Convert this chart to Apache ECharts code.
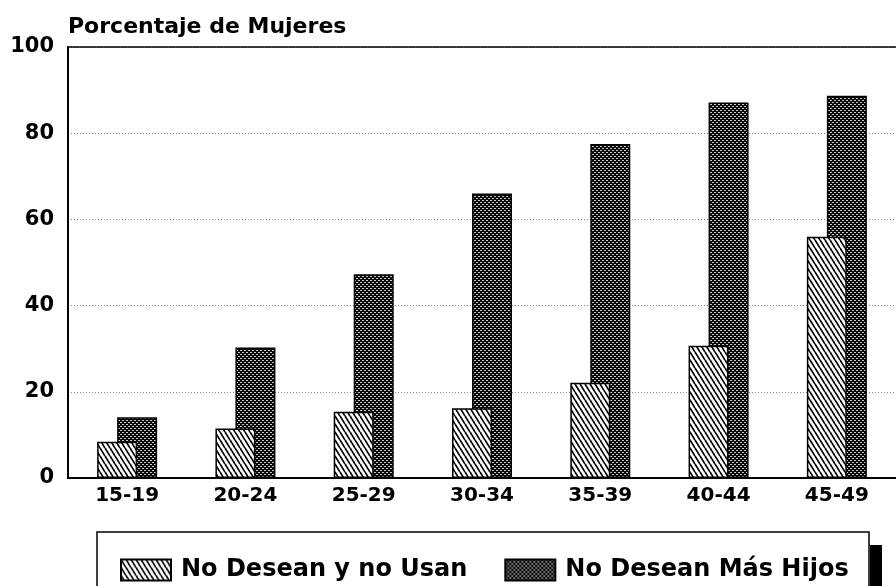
<!DOCTYPE html>
<html>
<head>
<meta charset="utf-8">
<script src="https://cdn.jsdelivr.net/npm/echarts@6/dist/echarts.min.js"></script>
<style>
html,body{margin:0;padding:0;background:#fff;}
#chart{width:896px;height:586px;}
</style>
</head>
<body>
<div id="chart"></div>
<script>
// ---- data ----
const categories = ['15-19', '20-24', '25-29', '30-34', '35-39', '40-44', '45-49'];
const noDeseanNoUsan = [8.4, 11.5, 15.4, 16.2, 22.1, 30.7, 56];
const noDeseanMasHijos = [14.1, 30.3, 47.3, 66, 77.5, 87.1, 88.7];
const seriesNames = ['No Desean y no Usan', 'No Desean Más Hijos'];
const yAxisName = 'Porcentaje de Mujeres';
const yMin = 0, yMax = 100, yInterval = 20;

// ---- patterns ----
function hatchPattern() {
  const c = document.createElement('canvas');
  c.width = 5; c.height = 8;
  const ctx = c.getContext('2d');
  ctx.fillStyle = '#fff';
  ctx.fillRect(0, 0, 5, 8);
  ctx.strokeStyle = '#000';
  ctx.lineWidth = 1.7;
  [-5, 0, 5].forEach(function (o) {
    ctx.beginPath();
    ctx.moveTo(o, 0);
    ctx.lineTo(o + 5, 8);
    ctx.stroke();
  });
  return c;
}
function crossPattern() {
  const c = document.createElement('canvas');
  c.width = 4; c.height = 4;
  const ctx = c.getContext('2d');
  const img = ctx.createImageData(4, 4);
  for (let y = 0; y < 4; y++) {
    for (let x = 0; x < 4; x++) {
      const s = (x + y) % 4, d = ((x - y) % 4 + 4) % 4;
      const white = (s >= 2) && (d >= 2);
      const v = white ? 200 : 10;
      const i = (y * 4 + x) * 4;
      img.data[i] = v; img.data[i + 1] = v; img.data[i + 2] = v; img.data[i + 3] = 255;
    }
  }
  ctx.putImageData(img, 0, 0);
  return c;
}

const FONT = 'DejaVu Sans';
const chart = echarts.init(document.getElementById('chart'), null, { renderer: 'canvas' });

chart.setOption({
  backgroundColor: '#fff',
  animation: false,
  grid: { left: 68, right: -7.5, top: 47, bottom: 108, containLabel: false },
  xAxis: [{
    type: 'category',
    data: categories,
    axisLine: { show: true, lineStyle: { color: '#000', width: 2 } },
    axisTick: { show: false },
    axisLabel: { color: '#000', fontFamily: FONT, fontWeight: 'bold', fontSize: 20, margin: 8 }
  }, {
    type: 'category',
    position: 'top',
    data: categories,
    axisLine: { show: true, lineStyle: { color: '#000', width: 1.5 } },
    axisTick: { show: false },
    axisLabel: { show: false }
  }],
  yAxis: {
    type: 'value',
    min: yMin, max: yMax, interval: yInterval,
    name: yAxisName,
    nameLocation: 'end',
    nameGap: 20,
    nameTextStyle: { color: '#000', fontFamily: FONT, fontWeight: 'bold', fontSize: 22, align: 'left', verticalAlign: 'middle' },
    axisLine: { show: true, lineStyle: { color: '#000', width: 2 } },
    axisTick: { show: false },
    axisLabel: { color: '#000', fontFamily: FONT, fontWeight: 'bold', fontSize: 21, margin: 14 },
    splitLine: { show: true, lineStyle: { color: '#8a8a8a', width: 1, type: [1, 2] } }
  },
  graphic: [
    { type: 'rect', z: 0, shape: { x: 870, y: 545, width: 12, height: 60 }, style: { fill: '#000' } },
    { type: 'rect', z: 0, shape: { x: 97, y: 532, width: 772, height: 80 }, style: { fill: '#fff', stroke: '#000', lineWidth: 1.5 } }
  ],
  legend: {
    z: 10,
    left: 120,
    top: 558,
    padding: 0,
    itemWidth: 50,
    itemHeight: 21,
    itemGap: 37,
    icon: 'rect',
    data: seriesNames,
    textStyle: { color: '#000', fontFamily: FONT, fontWeight: 'bold', fontSize: 24, padding: [4, 0, 0, 5] }
  },
  series: [{
    name: seriesNames[0],
    type: 'bar',
    z: 4,
    barWidth: 40,
    barGap: '-50%',
    data: noDeseanNoUsan,
    itemStyle: { color: { image: hatchPattern(), repeat: 'repeat' }, borderColor: '#000', borderWidth: 1.5 }
  }, {
    name: seriesNames[1],
    type: 'bar',
    z: 2,
    barWidth: 40,
    barGap: '-50%',
    data: noDeseanMasHijos,
    itemStyle: { color: { image: crossPattern(), repeat: 'repeat' }, borderColor: '#000', borderWidth: 1.5 }
  }]
});
</script>
</body>
</html>
